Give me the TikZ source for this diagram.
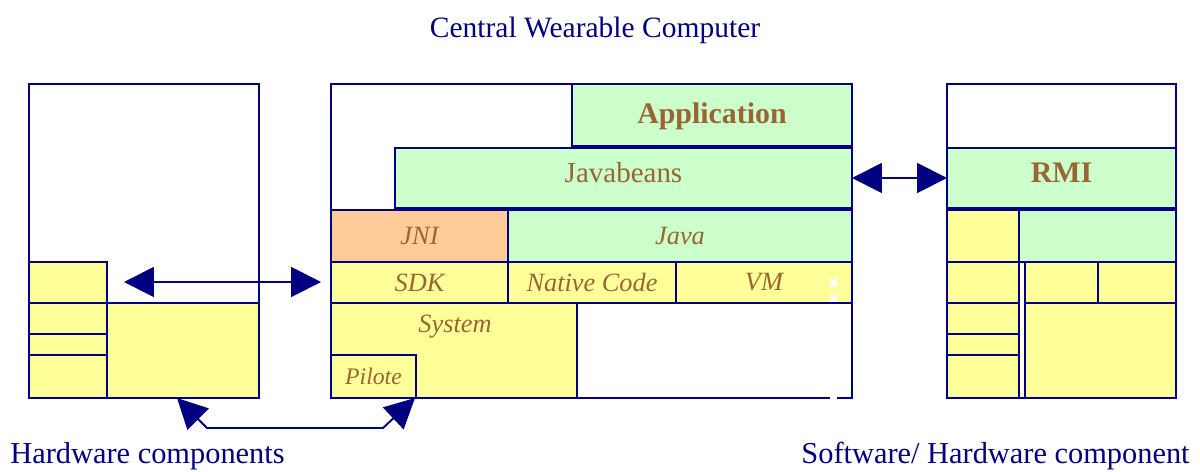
\documentclass[tikz,border=0pt]{standalone}
\usepackage{fontspec}
\setmainfont{Liberation Serif}
\usetikzlibrary{arrows.meta}
\definecolor{navy}{RGB}{0,0,128}
\definecolor{hwyellow}{RGB}{255,255,153}
\definecolor{swgreen}{RGB}{204,255,204}
\definecolor{jniorange}{RGB}{255,204,153}
\definecolor{labelbrown}{RGB}{153,102,51}
\begin{document}
\begin{tikzpicture}[x=0.02cm,y=-0.02cm,
    box/.style={draw=navy,line width=1.1pt},
    hw/.style={box,fill=hwyellow},
    sw/.style={box,fill=swgreen},
    lbl/.style={text=labelbrown,font=\fontsize{15}{18}\selectfont\itshape},
    bold/.style={text=labelbrown,font=\fontsize{17}{20}\selectfont\bfseries},
    caption/.style={text=navy,font=\fontsize{17.3}{20}\selectfont},
    link/.style={draw=navy,line width=1.1pt,{Triangle[length=17pt,width=17pt]}-{Triangle[length=17pt,width=17pt]}}]
        \useasboundingbox (0,0) rectangle (1200,471);

        % hardware components (left)
        \draw[box,fill=white] (29,84) rectangle (259,398);
        \draw[hw] (29,262) rectangle (107,303);
        \draw[hw] (29,303) rectangle (107,334);
        \draw[hw] (29,334) rectangle (107,355);
        \draw[hw] (29,355) rectangle (107,398);
        \draw[hw] (107,303) rectangle (259,398);

        % central wearable computer
        \draw[box,fill=white] (331,84) rectangle (852,398);
        \draw[sw] (572,84) rectangle (852,146) node[pos=0.5,bold,yshift=-1pt] (app) {Application};
        \draw[sw] (395,148) rectangle (852,208) node[pos=0.5,lbl,font=\fontsize{16.5}{20}\selectfont,yshift=3pt] (beans) {Javabeans};
        \draw[box,fill=jniorange] (331,210) rectangle (508,262) node[pos=0.5,lbl] (jni) {JNI};
        \draw[sw] (508,210) rectangle (852,262) node[pos=0.5,lbl] (java) {Java};
        \draw[hw] (331,262) rectangle (508,303) node[pos=0.5,lbl] (sdk) {SDK};
        \draw[hw] (508,262) rectangle (676,303) node[pos=0.5,lbl] (native) {Native Code};
        \draw[hw] (676,262) rectangle (852,303) node[pos=0.5,lbl] (vm) {VM};
        \draw[hw] (331,303) rectangle (577,398);
        \node[lbl] (system) at (455,327) {System};
        \draw[hw] (331,355) rectangle (416,398) node[pos=0.5,lbl,font=\fontsize{13.5}{16}\selectfont\itshape] (pilote) {Pilote};
        \fill[white] (830,279) rectangle (837,287);
        \fill[white] (830,295) rectangle (837,302);
        \fill[white] (830,395) rectangle (837,401);

        % software/hardware component (right)
        \draw[box,fill=white] (947,84) rectangle (1176,398);
        \draw[sw] (947,148) rectangle (1176,208) node[pos=0.5,bold,yshift=3pt] (rmi) {RMI};
        \draw[hw] (947,210) rectangle (1019,262);
        \draw[sw] (1019,210) rectangle (1176,262);
        \draw[hw] (947,262) rectangle (1019,303);
        \draw[hw] (947,303) rectangle (1019,334);
        \draw[hw] (947,334) rectangle (1019,355);
        \draw[hw] (947,355) rectangle (1019,398);
        \draw[hw] (1025,262) rectangle (1098,303);
        \draw[hw] (1098,262) rectangle (1176,303);
        \draw[hw] (1025,303) rectangle (1176,398);

        % links
        \coordinate (hwleft) at (124,282);
        \coordinate (sdkleft) at (321,282);
        \coordinate (beansright) at (852,178);
        \coordinate (rmileft) at (947,178);
        \coordinate (hwbottom) at (177,398);
        \coordinate (pilotebottom) at (415,398);
        \draw[link] (hwleft) -- (sdkleft);
        \draw[link] (beansright) -- (rmileft);
        \draw[link] (hwbottom) -- (207,428) -- (383,428) -- (pilotebottom);

        % captions
        \node[caption,anchor=base,font=\fontsize{16.8}{20}\selectfont] (title) at (595,37) {Central Wearable Computer};
        \node[caption,anchor=base west,inner sep=0pt] (hwcap) at (10,463) {Hardware components};
        \node[caption,anchor=base east,inner sep=0pt] (swcap) at (1190,463) {Software/ Hardware component};
    \end{tikzpicture}
\end{document}
